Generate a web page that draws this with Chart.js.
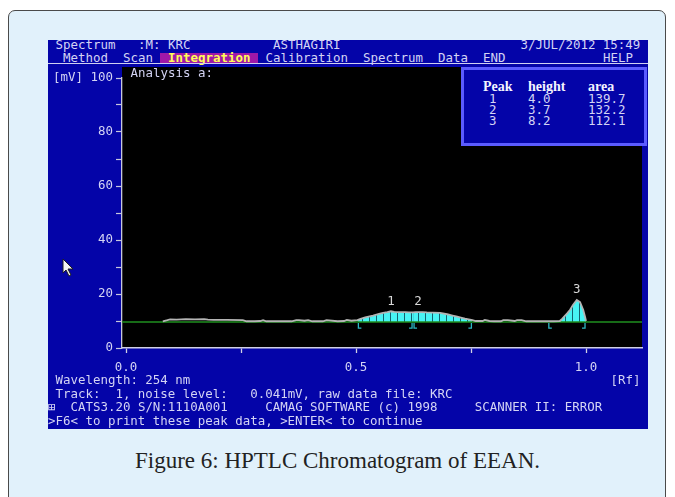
<!DOCTYPE html>
<html>
<head>
<meta charset="utf-8">
<script src="https://cdn.jsdelivr.net/npm/chart.js@4.4.1/dist/chart.umd.min.js"></script>
<style>
  body { margin: 0; background: #fff; width: 675px; height: 497px; overflow: hidden; position: relative; }
  #frame { position: absolute; left: 8px; top: 10px; width: 656px; height: 500px; background: #e1f1fb;
           border: 1.5px solid #4a4a4a; border-radius: 7px; }
  #screen { position: absolute; left: 48px; top: 40px; width: 600px; height: 389px; background: #0404a8; }
  /* text mode grid: 80 columns of 7.5px */
  .t { position: absolute; font-family: "DejaVu Sans Mono", monospace; font-size: 12.45px; line-height: 14px;
       color: #d4d4f4; white-space: pre; }
  #menuLine { position: absolute; left: 48px; top: 63px; width: 600px; height: 1px; background: #d0d0f0; }
  #hilite { position: absolute; left: 160px; top: 53px; width: 98px; height: 11px; background: #a018a8; }
  #chart { position: absolute; left: 48px; top: 64px; }
  #peakBox { position: absolute; left: 461px; top: 67px; width: 180px; height: 73px; background: #0404a8;
             border: 3px solid #5b5bff; }
  .hd { position: absolute; font-family: "Liberation Serif", serif; font-weight: bold; font-size: 14px;
        line-height: 14px; color: #f4f4ff; }
  #caption { position: absolute; left: 0; width: 675px; top: 448px; text-align: center;
             font-family: "Liberation Serif", serif; font-size: 23px; color: #222; }
</style>
</head>
<body>
<div id="frame"></div>
<div id="screen"></div>

<div class="t" style="left:55.5px;top:38px">Spectrum</div>
<div class="t" style="left:138px;top:38px">:M: KRC</div>
<div class="t" style="left:273px;top:38px">ASTHAGIRI</div>
<div class="t" style="left:520.5px;top:38px">3/JUL/2012 15:49</div>

<div id="hilite"></div>
<div class="t" style="left:63px;top:51px">Method</div>
<div class="t" style="left:123px;top:51px">Scan</div>
<div class="t" style="left:168px;top:51px;color:#ffff55;font-weight:bold">Integration</div>
<div class="t" style="left:265.5px;top:51px">Calibration</div>
<div class="t" style="left:363px;top:51px">Spectrum</div>
<div class="t" style="left:438px;top:51px">Data</div>
<div class="t" style="left:483px;top:51px">END</div>
<div class="t" style="left:603px;top:51px">HELP</div>
<div id="menuLine"></div>

<canvas id="chart" width="600" height="312"></canvas>

<div class="t" style="left:130.5px;top:66px">Analysis a:</div>
<div id="peakBox"></div>

<svg style="position:absolute;left:62px;top:258px" width="14" height="20">
  <polygon points="1,1 1,15 4,12 7,18 9,17 6,11 11,11" fill="#f4f4f4" stroke="#202020" stroke-width="1"/>
</svg>

<div class="t" style="left:55.5px;top:373px">Wavelength: 254 nm</div>
<div class="t" style="left:610.5px;top:373px">[Rf]</div>
<div class="t" style="left:55.5px;top:387px">Track:  1, noise level:   0.041mV, raw data file: KRC</div>
<div class="t" style="left:48px;top:400px">⊞</div>
<div class="t" style="left:70.5px;top:400px">CATS3.20 S/N:1110A001     CAMAG SOFTWARE (c) 1998     SCANNER II: ERROR</div>
<div class="t" style="left:48px;top:414px">&gt;F6&lt; to print these peak data, &gt;ENTER&lt; to continue</div>

<div id="caption">Figure 6: HPTLC Chromatogram of EEAN.</div>

<script>
// axis ticks
const xTickValues = [0, 0.25, 0.5, 0.75, 1.0];
const xTickLabels = ['0.0', '', '0.5', '', '1.0'];
const yTickValues = [0, 10, 20, 30, 40, 50, 60, 70, 80, 90, 100];
const yTickLabels = ['0', '', '20', '', '40', '', '60', '', '80', '', '[mV] 100'];

// scanned track, Rf vs mV
const rfValues = [
  0.080, 0.090, 0.096, 0.110, 0.130, 0.150, 0.170, 0.178, 0.190, 0.220, 0.254, 0.262, 0.280, 0.292, 0.298,
  0.305, 0.330, 0.360, 0.370, 0.376, 0.388, 0.396, 0.405, 0.428, 0.436, 0.460, 0.474, 0.480, 0.490,
  0.503, 0.510, 0.520, 0.537, 0.550, 0.559, 0.568, 0.576, 0.583, 0.589, 0.600, 0.607, 0.615, 0.624,
  0.630, 0.635, 0.645, 0.654, 0.668, 0.683, 0.698, 0.710, 0.720, 0.730, 0.737, 0.745, 0.753,
  0.760, 0.775, 0.780, 0.790, 0.800, 0.815, 0.820, 0.830, 0.845, 0.850, 0.860, 0.870, 0.890, 0.917,
  0.930, 0.943, 0.948, 0.954, 0.960, 0.965, 0.972, 0.980, 0.987, 0.994, 0.998, 1.000
];
const mvValues = [
  9.9, 10.3, 10.6, 10.5, 10.7, 10.6, 10.7, 10.5, 10.4, 10.4, 10.3, 9.9, 9.9, 10.0, 10.3,
  9.9, 9.9, 9.9, 10.3, 10.3, 10.1, 10.3, 9.9, 9.9, 10.3, 9.9, 10.0, 10.4, 10.1,
  10.3, 10.8, 11.3, 12.0, 12.6, 13.0, 13.3, 13.6, 13.4, 13.3, 13.3, 13.3, 13.2, 13.2,
  13.3, 13.3, 13.3, 13.2, 13.1, 13.0, 12.5, 12.0, 11.6, 11.2, 10.9, 10.6, 10.3,
  10.0, 10.0, 10.4, 10.0, 9.9, 9.9, 10.3, 10.3, 10.0, 10.3, 10.3, 9.9, 9.9, 9.9,
  9.9, 10.0, 10.8, 11.9, 13.0, 14.1, 16.0, 17.8, 17.0, 14.1, 11.5, 10.0
];
const baselineMv = 9.6;

// peak table
const peakNo = ['1', '2', '3'];
const peakRf = [0.576, 0.635, 0.980];
const peakHeight = [4.0, 3.7, 8.2];
const peakArea = [139.7, 132.2, 112.1];
const peakStart = [0.503, 0.624, 0.917];
const peakEnd = [0.624, 0.753, 1.000];

const xMin = -0.0087, xMax = 1.1217;

// peak data table in the box
function addText(cls, txt, left, top) {
  const d = document.createElement('div');
  d.className = cls;
  d.textContent = txt;
  d.style.left = left + 'px';
  d.style.top = top + 'px';
  document.body.appendChild(d);
}
addText('hd', 'Peak', 483, 80);
addText('hd', 'height', 528, 80);
addText('hd', 'area', 588, 80);
peakNo.forEach((p, i) => {
  const top = 92 + i * 11;
  addText('t', p, 489, top);
  addText('t', peakHeight[i].toFixed(1), 528, top);
  addText('t', peakArea[i].toFixed(1), 588, top);
});

// hatched cyan fill
const pc = document.createElement('canvas');
pc.width = 7; pc.height = 4;
const pctx = pc.getContext('2d');
pctx.fillStyle = '#48f4f4';
pctx.fillRect(0, 0, 7, 4);
pctx.fillStyle = '#14606e';
pctx.fillRect(6, 0, 1, 4);
const hatch = pctx.createPattern(pc, 'repeat');

const track = rfValues.map((x, i) => ({ x: x, y: mvValues[i] }));

const datasets = [
  { data: track, borderColor: '#b4b4b4', borderWidth: 1.8, fill: false, order: 0 },
  { data: [{ x: xMin, y: baselineMv }, { x: xMax, y: baselineMv }], borderColor: '#1f8f1f', borderWidth: 1.5, fill: false, order: 1 }
];
peakStart.forEach((s, i) => {
  datasets.push({
    data: track.filter(p => p.x >= s && p.x <= peakEnd[i]),
    borderWidth: 0,
    backgroundColor: hatch,
    fill: { value: baselineMv },
    order: 2
  });
});

const screenPlugin = {
  id: 'screen',
  beforeDraw(chart) {
    const a = chart.chartArea, ctx = chart.ctx;
    ctx.save();
    ctx.fillStyle = '#000';
    ctx.fillRect(a.left, a.top - 11, a.right - a.left, a.bottom - a.top + 11);
    ctx.restore();
  },
  afterDatasetsDraw(chart) {
    const ctx = chart.ctx, xs = chart.scales.x, ys = chart.scales.y;
    const yb = ys.getPixelForValue(baselineMv);
    ctx.save();
    ctx.strokeStyle = '#2cb8c4';
    ctx.lineWidth = 1.3;
    peakStart.forEach((s, i) => {
      const x0 = xs.getPixelForValue(s) + 1, x1 = xs.getPixelForValue(peakEnd[i]) - 1;
      ctx.beginPath();
      ctx.moveTo(x0, yb + 1); ctx.lineTo(x0, yb + 6); ctx.lineTo(x0 + 3, yb + 6);
      ctx.moveTo(x1, yb + 1); ctx.lineTo(x1, yb + 6); ctx.lineTo(x1 - 3, yb + 6);
      ctx.stroke();
    });
    ctx.fillStyle = '#d8d8d8';
    ctx.font = '12.5px "DejaVu Sans Mono"';
    ctx.textAlign = 'center';
    ctx.textBaseline = 'middle';
    peakNo.forEach((p, i) => {
      ctx.fillText(p, xs.getPixelForValue(peakRf[i]), ys.getPixelForValue(baselineMv + peakHeight[i]) - 10);
    });
    ctx.restore();
  }
};

Chart.defaults.font.family = '"DejaVu Sans Mono", monospace';
Chart.defaults.font.size = 12.45;

new Chart(document.getElementById('chart'), {
  type: 'line',
  data: { datasets: datasets },
  plugins: [screenPlugin],
  options: {
    responsive: false,
    animation: false,
    devicePixelRatio: 1,
    layout: { padding: { top: 14, right: 6, left: 0, bottom: 0 } },
    elements: { point: { radius: 0 }, line: { tension: 0 } },
    plugins: { legend: { display: false }, tooltip: { enabled: false } },
    scales: {
      x: {
        type: 'linear', min: xMin, max: xMax,
        afterBuildTicks: s => { s.ticks = xTickValues.map(v => ({ value: v })); },
        afterFit: s => { s.height = 28; },
        border: { display: true, color: '#d0d0e4', width: 1.5 },
        grid: { drawOnChartArea: false, drawTicks: true, tickLength: 5, tickColor: '#d0d0e4', tickWidth: 1.3 },
        ticks: { color: '#d4d4f4', padding: 7, maxRotation: 0, autoSkip: false, callback: (v, i) => xTickLabels[i] }
      },
      y: {
        type: 'linear', min: 0, max: 100,
        afterBuildTicks: s => { s.ticks = yTickValues.map(v => ({ value: v })); },
        afterFit: s => { s.width = 74; },
        border: { display: true, color: '#c8c8dc', width: 1.3 },
        grid: { drawOnChartArea: false, drawTicks: true, tickLength: 6, tickColor: '#c8c8dc', tickWidth: 1.2 },
        ticks: { color: '#d4d4f4', padding: 3, autoSkip: false, callback: (v, i) => yTickLabels[i] }
      }
    }
  }
});
</script>
</body>
</html>
